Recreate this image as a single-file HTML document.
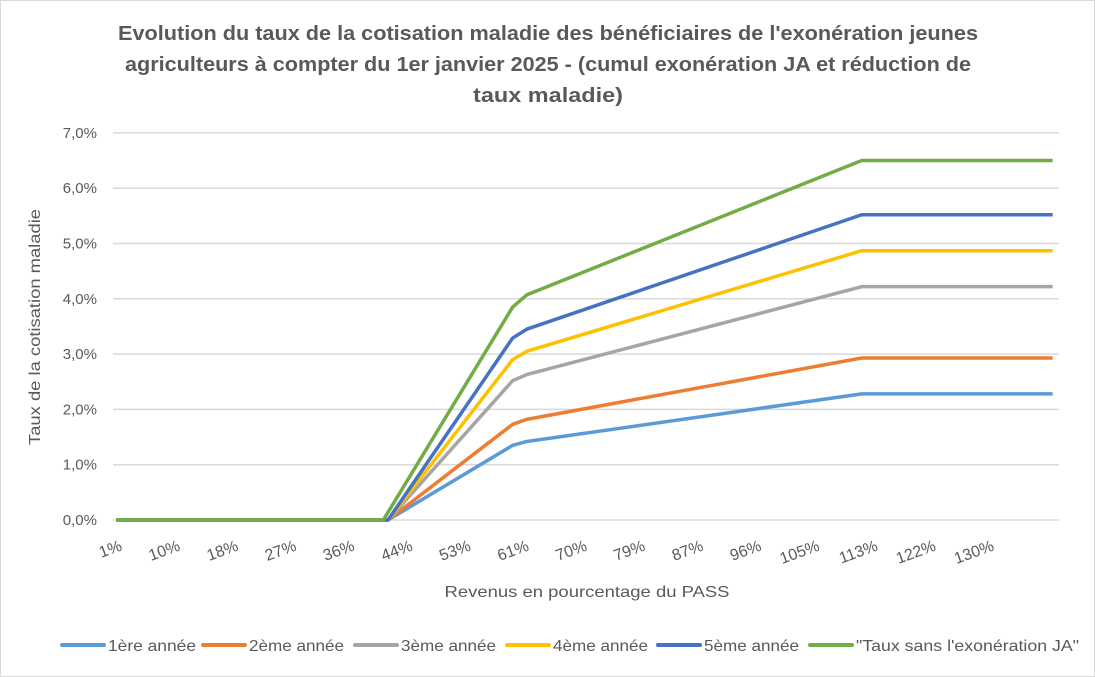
<!DOCTYPE html>
<html><head><meta charset="utf-8"><style>
body{margin:0;background:#fff;font-family:"Liberation Sans",sans-serif;}
svg{display:block}
</style></head><body>
<svg width="1095" height="677">
<rect x="0.5" y="0.5" width="1094" height="676" fill="#fff" stroke="#d9d9d9"/>
<text text-anchor="middle" font-size="20" font-weight="bold" fill="#595959"><tspan x="548" y="40" textLength="860" lengthAdjust="spacingAndGlyphs">Evolution du taux de la cotisation maladie des bénéficiaires de l'exonération jeunes</tspan><tspan x="548" y="71" textLength="846" lengthAdjust="spacingAndGlyphs">agriculteurs à compter du 1er janvier 2025 - (cumul exonération JA et réduction de</tspan><tspan x="548" y="102" textLength="150" lengthAdjust="spacingAndGlyphs">taux maladie)</tspan></text>
<g id="grid"></g><g id="yt"></g><g id="xt"></g><g id="lines"></g>
<text x="587" y="597" text-anchor="middle" font-size="16" fill="#595959" textLength="285" lengthAdjust="spacingAndGlyphs">Revenus en pourcentage du PASS</text>
<text transform="translate(40,327) rotate(-90)" text-anchor="middle" font-size="16" fill="#595959" textLength="236" lengthAdjust="spacingAndGlyphs">Taux de la cotisation maladie</text>
<g id="legend"></g>
</svg>
<script>
const xTickLabels=["1%","10%","18%","27%","36%","44%","53%","61%","70%","79%","87%","96%","105%","113%","122%","130%"];
const yTicks=[0,1,2,3,4,5,6,7];
const seriesNames=["1ère année","2ème année","3ème année","4ème année","5ème année","\"Taux sans l'exonération JA\""];
const colors=["#5b9bd5","#ed7d31","#a5a5a5","#ffc000","#4472c4","#70ad47"];
const xVals=[1,41.6,60.2,62.3,112.3,140.8];
const greenX=[1,40.9,60.2,62.3,112.3,140.8];
const s1=[0,0,1.35,1.42,2.28,2.28];
const s2=[0,0,1.73,1.82,2.93,2.93];
const s3=[0,0,2.52,2.63,4.22,4.22];
const s4=[0,0,2.90,3.05,4.87,4.87];
const s5=[0,0,3.29,3.45,5.52,5.52];
const s6=[0,0,3.85,4.07,6.50,6.50];
const series=[s1,s2,s3,s4,s5,s6];
const NS="http://www.w3.org/2000/svg";
const X=v=>116+(v-1)*6.70, Y=v=>520-v*55.3;
function mk(t,a,p){const e=document.createElementNS(NS,t);for(const k in a)e.setAttribute(k,a[k]);document.getElementById(p).appendChild(e);return e;}
yTicks.forEach(t=>{
 const l=mk('line',{x1:113,x2:1059,y1:Y(t),y2:Y(t),stroke:'#d9d9d9','stroke-width':1.5},'grid');
 
 
 const tx=mk('text',{x:97,y:Y(t)+5,'text-anchor':'end','font-size':15,fill:'#595959'},'yt');
 tx.textContent=t.toFixed(1).replace('.',',')+'%';
 
 
});
xTickLabels.forEach((s,i)=>{
 const px=123+i*58.13;
 const tx=mk('text',{x:px,y:550,'text-anchor':'end','font-size':16,fill:'#595959',transform:`rotate(-20 ${px} 550)`},'xt');
 tx.textContent=s;
 
 
});
series.forEach((s,i)=>{
 const xs=i==5?greenX:xVals;
 const p=mk('polyline',{points:s.map((v,j)=>X(xs[j])+','+Y(v)).join(' '),fill:'none',stroke:colors[i],'stroke-width':3.5,'stroke-linejoin':'round'},'lines');
 
 
});
const lx=[62,203,355,507,658,810];
const lw=[88,95,95,95,95,223];
seriesNames.forEach((n,i)=>{
 const l=mk('line',{x1:lx[i],x2:lx[i]+42,y1:645,y2:645,stroke:colors[i],'stroke-width':4,'stroke-linecap':'round'},'legend');
 
 
 const t=mk('text',{x:lx[i]+46,y:651,'font-size':16,fill:'#595959',textLength:lw[i],lengthAdjust:'spacingAndGlyphs'},'legend');
 t.textContent=n;
 
 
});
</script>
</body></html>
